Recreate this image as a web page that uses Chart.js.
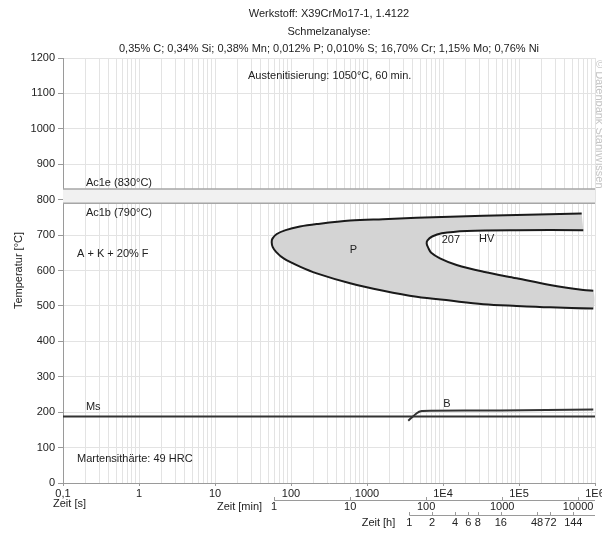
<!DOCTYPE html>
<html lang="de">
<head>
    <meta charset="UTF-8">
    <title>ZTU-Schaubild X39CrMo17-1</title>
    <style>
        html, body { margin: 0; padding: 0; background: #fff; }
    </style>
</head>
<body>
    <canvas id="ztu" width="602" height="536"></canvas>
<script src="https://cdn.jsdelivr.net/npm/chart.js@4.4.0/dist/chart.umd.min.js"></script>
<script>
    // Achsen
    var xTickValues = [0.1, 1, 10, 100, 1000, 1e4, 1e5, 1e6];
    var xTickLabels = ["0,1", "1", "10", "100", "1000", "1E4", "1E5", "1E6"];
    var minTickValues = [1, 10, 100, 1000, 10000];
    var minTickLabels = ["1", "10", "100", "1000", "10000"];
    var hTickValues = [1, 2, 4, 6, 8, 16, 48, 72, 144];
    var hTickLabels = ["1", "2", "4", "6", "8", "16", "48", "72", "144"];

    // Perlit Beginn (aussen) und Ende (innen), Zeit in s, Temperatur in °C
    var perlitBeginnZeit = [668000, 93000, 12400, 1620, 600, 218, 131, 85, 65, 57, 55.7, 57.5, 64, 80, 131, 218, 600, 1640, 4500, 12400, 34000, 93000, 256000, 950000];
    var perlitBeginnTemp = [761, 757, 752, 745, 741, 731, 724, 714, 703, 690, 680, 666, 652, 634, 611, 592, 564, 543, 526, 515, 505, 500, 496, 493];
    var perlitEndeZeit = [702000, 93000, 20500, 9620, 7200, 6250, 6100, 6400, 7000, 9120, 15100, 33900, 93300, 256000, 702000, 950000];
    var perlitEndeTemp = [714, 714, 711.5, 705, 696, 685, 676, 664, 650, 634.5, 615.5, 596.6, 578, 559, 545, 543];

    // Ac1, Ms, Bainit
    var ac1e = 830;
    var ac1b = 790;
    var msZeit = [0.1, 1e6];
    var msTemp = [188, 188];
    var bainitZeit = [3490, 4510, 5250, 6740, 56000, 950000];
    var bainitTemp = [176, 197, 203, 204, 205, 207.5];

    var texte = [
        {text: "Austenitisierung: 1050°C, 60 min.", x: 27.2, y: 1149, align: "left"},
        {text: "Ac1e (830°C)", x: 0.2, y: 847, align: "left"},
        {text: "Ac1b (790°C)", x: 0.2, y: 762, align: "left"},
        {text: "A + K + 20% F", x: 0.153, y: 647, align: "left"},
        {text: "P", x: 661, y: 658, align: "center"},
        {text: "207", x: 12700, y: 686, align: "center"},
        {text: "HV", x: 37600, y: 688, align: "center"},
        {text: "Ms", x: 0.2, y: 215, align: "left"},
        {text: "B", x: 11300, y: 223, align: "center"},
        {text: "Martensithärte: 49 HRC", x: 0.153, y: 68, align: "left"}
    ];

    var schrift = '"Liberation Sans", Arial, sans-serif';

    function punkte(zeit, temp) {
        return zeit.map(function (t, i) { return {x: t, y: temp[i]}; });
    }

    var beginn = punkte(perlitBeginnZeit, perlitBeginnTemp);
    var ende = punkte(perlitEndeZeit, perlitEndeTemp);
    var flaeche = beginn.concat(ende.slice().reverse());

    var beschriftung = {
        id: "beschriftung",
        afterDraw: function (chart) {
            var ctx = chart.ctx;
            var xs = chart.scales.x;
            var ys = chart.scales.y;
            var rechts = chart.chartArea.right;
            ctx.save();
            ctx.font = "11px " + schrift;
            ctx.fillStyle = "#222";
            ctx.textBaseline = "middle";

            // Titel
            ctx.textAlign = "center";
            var mitte = (chart.chartArea.left + chart.chartArea.right) / 2;
            ctx.fillText("Werkstoff: X39CrMo17-1, 1.4122", mitte, 14);
            ctx.fillText("Schmelzanalyse:", mitte, 32);
            ctx.fillText("0,35% C; 0,34% Si; 0,38% Mn; 0,012% P; 0,010% S; 16,70% Cr; 1,15% Mo; 0,76% Ni", mitte, 49);

            // Texte im Diagramm
            texte.forEach(function (t) {
                ctx.textAlign = t.align;
                ctx.fillText(t.text, xs.getPixelForValue(t.x), ys.getPixelForValue(t.y));
            });

            // Zeit [s]
            ctx.textAlign = "left";
            ctx.fillText("Zeit [s]", 53, 504);

            // Zusatzachsen Minuten und Stunden
            function achse(werte, labels, faktor, yLinie, yText, titel, abstand) {
                var start = xs.getPixelForValue(werte[0] * faktor);
                ctx.strokeStyle = "#9a9a9a";
                ctx.lineWidth = 1;
                ctx.beginPath();
                ctx.moveTo(start, yLinie + 0.5);
                ctx.lineTo(rechts, yLinie + 0.5);
                werte.forEach(function (v) {
                    var px = Math.round(xs.getPixelForValue(v * faktor)) + 0.5;
                    ctx.moveTo(px, yLinie - 3);
                    ctx.lineTo(px, yLinie);
                });
                ctx.stroke();
                ctx.textAlign = "center";
                werte.forEach(function (v, i) {
                    ctx.fillText(labels[i], xs.getPixelForValue(v * faktor), yText);
                });
                ctx.textAlign = "right";
                ctx.fillText(titel, start - abstand, yText);
            }
            achse(minTickValues, minTickLabels, 60, 500, 507, "Zeit [min]", 12);
            achse(hTickValues, hTickLabels, 3600, 515, 523, "Zeit [h]", 14);

            // Wasserzeichen
            ctx.translate(599, 60);
            ctx.rotate(Math.PI / 2);
            ctx.textAlign = "left";
            ctx.fillStyle = "#c4c4c4";
            ctx.fillText("© Datenbank StahlWissen", 0, 0);
            ctx.restore();
        }
    };

    var linie = {showLine: true, pointRadius: 0, borderColor: "#1a1a1a", borderWidth: 2, fill: false};

    var ctx = document.getElementById("ztu").getContext("2d");
    var ztu = new Chart(ctx, {
        type: "scatter",
        data: {
            datasets: [
                Object.assign({}, linie, {data: beginn, tension: 0.35}),
                Object.assign({}, linie, {data: ende, tension: 0.35}),
                Object.assign({}, linie, {data: punkte(msZeit, msTemp), borderColor: "#333"}),
                Object.assign({}, linie, {data: punkte(bainitZeit, bainitTemp), borderColor: "#333", tension: 0.2}),
                Object.assign({}, linie, {data: punkte([0.1, 1e6], [ac1b, ac1b]), borderColor: "#a6a6a6", borderWidth: 1.5}),
                Object.assign({}, linie, {data: punkte([0.1, 1e6], [ac1e, ac1e]), borderColor: "#a6a6a6", borderWidth: 1.5,
                    fill: {value: ac1b}, backgroundColor: "#f1f1f1"}),
                {data: flaeche, showLine: true, pointRadius: 0, borderWidth: 0, tension: 0.35,
                    fill: "shape", backgroundColor: "#d4d4d4"}
            ]
        },
        options: {
            responsive: false,
            animation: false,
            layout: {padding: {top: 58, right: 7, left: 0, bottom: 0}},
            plugins: {legend: {display: false}, tooltip: {enabled: false}},
            scales: {
                x: {
                    type: "logarithmic",
                    min: 0.1,
                    max: 1e6,
                    afterBuildTicks: function (scale) {
                        var t = [];
                        xTickValues.forEach(function (v, i) {
                            t.push({value: v, major: true});
                            if (i < xTickValues.length - 1) {
                                for (var m = 2; m <= 9; m++) t.push({value: v * m});
                            }
                        });
                        scale.ticks = t;
                    },
                    afterFit: function (scale) {
                        scale.height = 53;
                        scale.paddingLeft = 0;
                        scale.paddingRight = 0;
                    },
                    ticks: {
                        autoSkip: false,
                        maxRotation: 0,
                        padding: 1,
                        color: "#222",
                        font: {family: schrift, size: 11},
                        callback: function (val) {
                            var i = xTickValues.findIndex(function (v) { return Math.abs(v - val) / v < 1e-6; });
                            return i >= 0 ? xTickLabels[i] : "";
                        }
                    },
                    grid: {
                        color: "#e3e3e3",
                        tickLength: 3,
                        tickColor: function (c) { return c.tick && c.tick.major ? "#9a9a9a" : "rgba(0,0,0,0)"; }
                    },
                    border: {color: "#9a9a9a"}
                },
                y: {
                    min: 0,
                    max: 1200,
                    afterFit: function (scale) {
                        scale.width = 63;
                        scale.paddingTop = 0;
                        scale.paddingBottom = 0;
                    },
                    ticks: {
                        stepSize: 100,
                        padding: 3,
                        color: "#222",
                        font: {family: schrift, size: 11},
                        callback: function (val) { return String(val); }
                    },
                    grid: {color: "#e3e3e3", tickLength: 5, tickColor: "#9a9a9a"},
                    border: {color: "#9a9a9a"},
                    title: {
                        display: true,
                        text: "Temperatur [°C]",
                        color: "#222",
                        font: {family: schrift, size: 11},
                        padding: {top: 12, bottom: 0}
                    }
                }
            }
        },
        plugins: [beschriftung]
    });
</script>
</body>
</html>
